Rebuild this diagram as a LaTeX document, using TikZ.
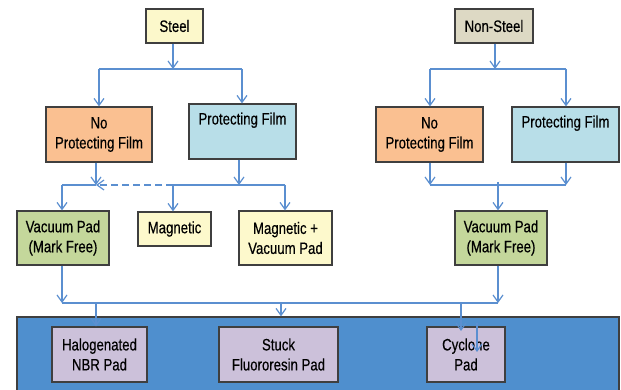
\documentclass[tikz,border=0pt]{standalone}
\usepackage{fontspec}
\setmainfont{Liberation Sans}[FakeStretch=0.8,FakeBold=0.4]
\usetikzlibrary{arrows.meta}
\definecolor{boxline}{HTML}{3F3F3F}
\definecolor{arr}{HTML}{5B8FD0}
\definecolor{steelc}{HTML}{FCF8CB}
\definecolor{nonsteelc}{HTML}{DDD9C4}
\definecolor{npfc}{HTML}{FAC091}
\definecolor{pfc}{HTML}{B8DEE8}
\definecolor{vacc}{HTML}{C4D79B}
\definecolor{magc}{HTML}{FDF9CC}
\definecolor{padc}{HTML}{CCC1DA}
\definecolor{bandc}{HTML}{4F8FCE}
\tikzset{
  box/.style={draw=boxline, line width=1.2pt, align=center, inner sep=0pt,
    font=\fontsize{16.5}{20}\selectfont},
  conn/.style={draw=arr, line width=1.2pt},
  tip/.style={conn, -{Straight Barb[length=7pt,width=10pt]}},
}
\begin{document}
\begin{tikzpicture}[x=1pt,y=-1pt]
\useasboundingbox (0,0) rectangle (621,390);
\fill[white] (0,0) rectangle (621,390);
% band
\node[draw=boxline, line width=1.2pt, fill=bandc, inner sep=0pt, minimum width=602pt, minimum height=76pt] (band) at (318,355) {};
% top nodes
\node[box, fill=steelc, minimum width=57pt, minimum height=34pt] (steel) at (174.5,26) {Steel};
\node[box, fill=nonsteelc, minimum width=78pt, minimum height=34pt] (nonsteel) at (494,26) {Non-Steel};
\node[box, fill=npfc, minimum width=106pt, minimum height=55pt] (npf1) at (99,134.5) {No\\Protecting Film};
\node[box, fill=pfc, minimum width=107pt, minimum height=55pt] (pf1) at (242.5,131.5) {Protecting Film\\\strut};
\node[box, fill=npfc, minimum width=107pt, minimum height=55pt] (npf2) at (429.5,134.5) {No\\Protecting Film};
\node[box, fill=pfc, minimum width=107pt, minimum height=55pt] (pf2) at (565.5,134.5) {Protecting Film\\\strut};
\node[box, fill=vacc, minimum width=92pt, minimum height=54pt] (vac1) at (63,238) {Vacuum Pad\\(Mark Free)};
\node[box, fill=magc, minimum width=73pt, minimum height=34pt] (mag) at (174.5,229) {Magnetic};
\node[box, fill=magc, minimum width=93pt, minimum height=54pt] (magvac) at (285.5,238) {Magnetic +\\Vacuum Pad};
\node[box, fill=vacc, minimum width=92pt, minimum height=54pt] (vac2) at (501,238) {Vacuum Pad\\(Mark Free)};
\node[box, fill=padc, minimum width=95pt, minimum height=55pt] (hal) at (99.5,354.5) {Halogenated\\NBR Pad};
\node[box, fill=padc, minimum width=119pt, minimum height=55pt] (stuck) at (278.5,354.5) {Stuck\\Fluororesin Pad};
\node[box, fill=padc, minimum width=78pt, minimum height=55pt] (cyc) at (466,354.5) {Cyclone\\Pad};
% junction coordinates
\coordinate (s1) at (173,69);
\coordinate (sL) at (99,69);
\coordinate (sR) at (242,69);
\coordinate (n1) at (495,69);
\coordinate (nL) at (430,69);
\coordinate (nR) at (566,69);
\coordinate (j1) at (96,185);
\coordinate (j2) at (239,185);
\coordinate (v1) at (62,185);
\coordinate (m1) at (173,185);
\coordinate (m2) at (285,185);
\coordinate (r1) at (430,185);
\coordinate (r2) at (566,185);
\coordinate (r3) at (498,182);
\coordinate (b1) at (62,303);
\coordinate (b2) at (498,303);
\coordinate (bh) at (96,303);
\coordinate (bs) at (281,303);
\coordinate (bc) at (461,303);
\coordinate (ce) at (461,331);
\coordinate (x1) at (477,323);
\coordinate (x2) at (477,352);
% steel branch
\draw[tip] (steel.south -| s1) -- (s1);
\draw[conn] (sL) -- (sR);
\draw[tip] (sL) -- (sL |- npf1.north);
\draw[tip] (sR) -- (sR |- pf1.north);
% non-steel branch
\draw[tip] (nonsteel.south -| n1) -- (n1);
\draw[conn] (nL) -- (nR);
\draw[tip] (nL) -- (nL |- npf2.north);
\draw[tip] (nR) -- (nR |- pf2.north);
% steel second level
\draw[tip] (npf1.south -| j1) -- (j1);
\draw[tip] (pf1.south -| j2) -- (j2);
\draw[conn] (v1) -- (j1);
\draw[tip, dash pattern=on 7pt off 4pt] (m1) -- (j1);
\draw[conn] (m1) -- (m2);
\draw[tip] (v1) -- (v1 |- vac1.north);
\draw[tip] (m1) -- (m1 |- mag.north);
\draw[tip] (m2) -- (m2 |- magvac.north);
% non-steel second level
\draw[tip] (npf2.south -| r1) -- (r1);
\draw[tip] (pf2.south -| r2) -- (r2);
\draw[conn] (r1) -- (r2);
\draw[tip] (r3) -- (r3 |- vac2.north);
% bottom
\draw[tip] (vac1.south -| b1) -- (b1);
\draw[tip] (vac2.south -| b2) -- (b2);
\draw[conn] (b1) -- (b2);
\draw[tip] (bh) -- (bh |- hal.north);
\draw[tip] (bs) -- (bs |- band.north);
\draw[tip] (bc) -- (ce);
\draw[tip] (x1) -- (x2);
\end{tikzpicture}
\end{document}
